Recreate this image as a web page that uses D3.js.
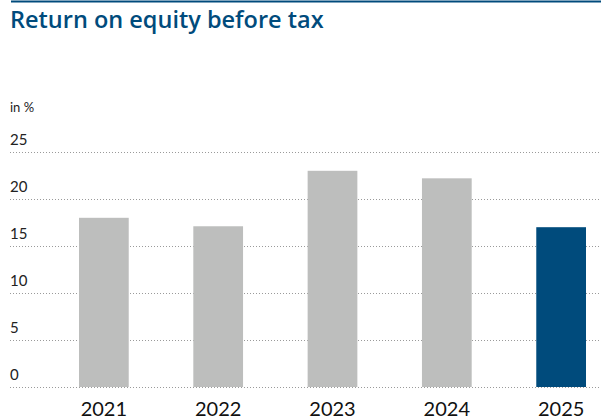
<!DOCTYPE html>
<html>
<head>
<meta charset="utf-8">
<script src="https://cdn.jsdelivr.net/npm/d3@7"></script>
<style>
  html, body { margin: 0; padding: 0; background: #fff; }
  svg { display: block; }
</style>
</head>
<body>
<svg id="chart" width="601" height="420"></svg>
<script>
// Return on equity before tax, in %
const years = ["2021", "2022", "2023", "2024", "2025"];
const roe = [18.0, 17.1, 23.0, 22.2, 17.0];
const yTicks = [0, 5, 10, 15, 20, 25];
const titleText = "Return on equity before tax";
const unitText = "in %";

const W = 601, H = 420;
const blue = "#004b7c";
const grey = "#bdbebd";
const fontFamily = "Lato, 'Open Sans', sans-serif";

const svg = d3.select("#chart");

// top rule and title
svg.append("line")
  .attr("x1", 11).attr("x2", W).attr("y1", 1.5).attr("y2", 1.5)
  .attr("stroke", blue).attr("stroke-width", 2);

svg.append("text")
  .attr("x", 10).attr("y", 28)
  .attr("font-family", "'Open Sans', sans-serif").attr("font-weight", 600)
  .attr("font-size", 23.5).attr("fill", blue)
  .text(titleText);

const x = d3.scaleBand().domain(years).range([79, 586]).paddingInner(0.565).paddingOuter(0);
const y = d3.scaleLinear().domain([0, 25]).range([387, 152]);

// unit label
svg.append("text")
  .attr("x", 10).attr("y", 112)
  .attr("font-family", fontFamily).attr("font-size", 13).attr("fill", "#222")
  .text(unitText);

// dotted gridlines with left-aligned tick labels above them
const yAxis = d3.axisRight(y).tickValues(yTicks).tickSize(W - 10).tickFormat(d3.format("d"));
const gy = svg.append("g").attr("transform", "translate(10,0)").call(yAxis);
gy.select(".domain").remove();
gy.selectAll(".tick line")
  .attr("stroke", "#9a9a9a").attr("stroke-width", 1).attr("stroke-dasharray", "1,2");
gy.selectAll(".tick text")
  .attr("x", 0).attr("dy", -8).attr("text-anchor", "start")
  .attr("font-family", fontFamily).attr("font-size", 15).attr("fill", "#222");

// bars
svg.append("g").selectAll("rect")
  .data(years)
  .join("rect")
  .attr("x", d => x(d))
  .attr("width", x.bandwidth())
  .attr("y", (d, i) => y(roe[i]))
  .attr("height", (d, i) => y(0) - y(roe[i]))
  .attr("fill", (d, i) => i === years.length - 1 ? blue : grey);

// year labels
const xAxis = d3.axisBottom(x).tickSize(0).tickPadding(0);
const gx = svg.append("g").attr("transform", "translate(0,416)").call(xAxis);
gx.select(".domain").remove();
gx.selectAll(".tick text")
  .attr("dy", 0)
  .attr("font-family", fontFamily).attr("font-size", 20).attr("fill", "#111");
</script>
</body>
</html>
